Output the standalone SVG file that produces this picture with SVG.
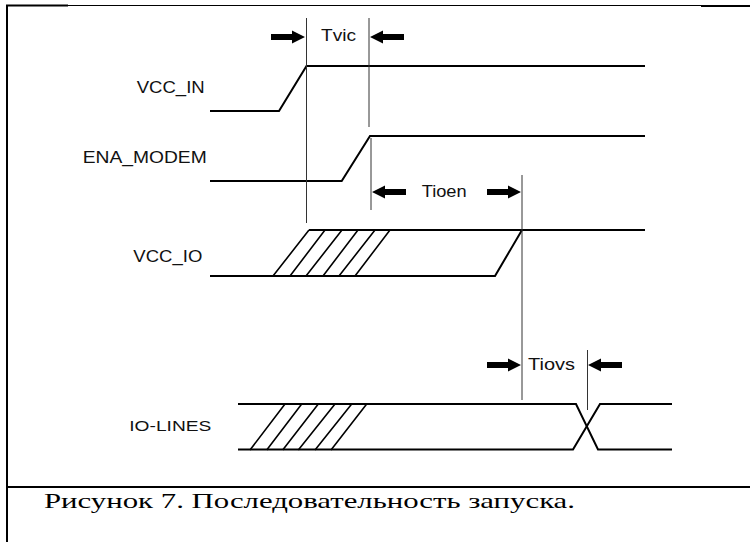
<svg xmlns="http://www.w3.org/2000/svg" width="750" height="542" viewBox="0 0 750 542">
<style>
.sig{fill:none;stroke:#000;stroke-width:2;stroke-linejoin:miter}
.hatch{fill:none;stroke:#000;stroke-width:1.6}
.vl{stroke:#333;stroke-width:1;fill:none}
.lbl{font-family:"Liberation Sans",Arial,sans-serif;font-size:17px;fill:#111}
.cap{font-family:"Liberation Serif","Times New Roman",serif;font-size:22px;fill:#000}
.frame{stroke:#000;fill:none}
</style>
<defs>
<path id="arR" d="M-34,-3 L-13,-3 L-13,-6.5 L0,0 L-13,6.5 L-13,3 L-34,3 Z" fill="#000"/>
</defs>
<g id="frame">
<line class="frame" x1="7" y1="5" x2="7" y2="542" stroke-width="2"/>
<line class="frame" x1="7" y1="5.5" x2="701" y2="5.5" stroke-width="1"/>
<line class="frame" x1="6" y1="5.5" x2="68" y2="5.5" stroke-width="2"/>
<line class="frame" x1="701" y1="6" x2="750" y2="6" stroke-width="2"/>
<line class="frame" x1="6" y1="487" x2="750" y2="487" stroke-width="2"/>
</g>
<g id="vcc_in">
<text class="lbl" x="136.7" y="93" textLength="68" lengthAdjust="spacingAndGlyphs">VCC_IN</text>
<polyline class="sig" points="210,111 279,111 306.5,66 645,66"/>
</g>
<g id="ena_modem">
<text class="lbl" x="82.7" y="163.3" textLength="124" lengthAdjust="spacingAndGlyphs">ENA_MODEM</text>
<polyline class="sig" points="210,181 341.7,181 370,136 645,136"/>
</g>
<g id="vcc_io">
<text class="lbl" x="133.3" y="261.7" textLength="69" lengthAdjust="spacingAndGlyphs">VCC_IO</text>
<polyline class="sig" points="210,276 495,276 522,230"/>
<polyline class="sig" points="309,230 645,230"/>
<path class="hatch" d="M273,276 L309,230 M290,276 L325,230 M306,276 L342,230 M323,276 L358,230 M339,276 L375,230 M355,276 L390,230"/>
</g>
<g id="io_lines">
<text class="lbl" x="129.3" y="431" style="font-size:15px" textLength="82" lengthAdjust="spacingAndGlyphs">IO-LINES</text>
<polyline class="sig" points="238,404 576,404 598,449.5 672,449.5"/>
<polyline class="sig" points="238,449.5 573,449.5 600,404 672,404"/>
<path class="hatch" d="M250,450 L285,404 M266.7,450 L301.7,404 M282.7,450 L318.3,404 M298.3,450 L335,404 M315,450 L351.7,404 M331,450 L366.7,404"/>
</g>
<g id="connectors">
<line class="vl" x1="306.5" y1="18" x2="306.5" y2="223"/>
<line class="vl" x1="369" y1="18" x2="369" y2="127"/>
<line class="vl" x1="371" y1="138" x2="371" y2="210"/>
<line class="vl" x1="522" y1="175" x2="522" y2="400"/>
<line class="vl" x1="587.5" y1="350" x2="587.5" y2="410"/>
<use href="#arR" transform="translate(305,37)"/>
<use href="#arR" transform="translate(370,37) scale(-1,1)"/>
<use href="#arR" transform="translate(372,192) scale(-1,1)"/>
<use href="#arR" transform="translate(521,192)"/>
<use href="#arR" transform="translate(521,365)"/>
<use href="#arR" transform="translate(588,365) scale(-1,1)"/>
<text class="lbl" x="321" y="41" textLength="35" lengthAdjust="spacingAndGlyphs">Tvic</text>
<text class="lbl" x="421.7" y="197" textLength="45" lengthAdjust="spacingAndGlyphs">Tioen</text>
<text class="lbl" x="528" y="370" textLength="47" lengthAdjust="spacingAndGlyphs">Tiovs</text>
</g>
<g id="caption">
<text class="cap" x="44" y="508" textLength="531" lengthAdjust="spacingAndGlyphs">Рисунок 7. Последовательность запуска.</text>
</g>
</svg>
